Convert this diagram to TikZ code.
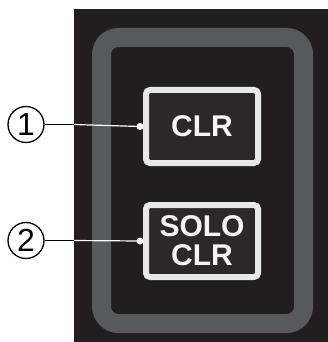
\documentclass[tikz,border=0pt]{standalone}
\usepackage{fontspec}
\newfontfamily\panelfont{Liberation Sans}
\usetikzlibrary{calc}

\begin{document}
\begin{tikzpicture}[x=1pt,y=-1pt]
        %%init
        \useasboundingbox (0,0) rectangle (328,342);
        %颜色
        \definecolor{panel_color}{RGB}{34,30,31}
        \definecolor{ring_color}{RGB}{88,89,91}
        \definecolor{key_color}{RGB}{42,40,41}
        \definecolor{frame_color}{RGB}{232,232,232}
        \definecolor{label_color}{RGB}{244,244,244}
        \tikzset{key/.style = {draw=frame_color, fill=key_color, line width=6pt, rounded corners=4pt,
                minimum width=112pt, inner sep=0pt, text=label_color, align=center,
                font=\panelfont\bfseries\fontsize{30}{29}\selectfont}}
        \tikzset{callout/.style = {circle, draw=black, line width=1.3pt, minimum size=36pt, inner sep=0pt,
                font=\panelfont\fontsize{32}{32}\selectfont}}
        \tikzset{leader/.style = {line width=1.2pt}}

        %%面板和灰色外框
        \fill[panel_color] (74,9) rectangle (328,342);
        \draw[ring_color, line width=19pt, rounded corners=17pt] (101.5,37.5) rectangle (303.5,323.5);

        %%按键
        \node[key, minimum height=73pt] (clr) at (202,126.5) {CLR};
        \node[key, minimum height=72pt] (soloclr) at (202,241) {SOLO\\CLR};

        %%编号
        \node[callout] (n1) at (26,124.5) {1};
        \node[callout] (n2) at (26,240.5) {2};

        %引线端点
        \coordinate (e1) at (74,0 |- n1.east);
        \coordinate (e2) at (74,0 |- n2.east);
        \coordinate (d1) at ([xshift=-3pt]clr.west);
        \coordinate (d2) at ([xshift=-3pt]soloclr.west);

        %%引线
        \draw[leader, black] (n1.east) -- (e1);
        \draw[leader, white] (e1) -- (d1);
        \draw[leader, black] (n2.east) -- (e2);
        \draw[leader, white] (e2) -- (d2);
        \fill[white] (d1) circle (3.5);
        \fill[white] (d2) circle (3.5);
    \end{tikzpicture}
\end{document}
